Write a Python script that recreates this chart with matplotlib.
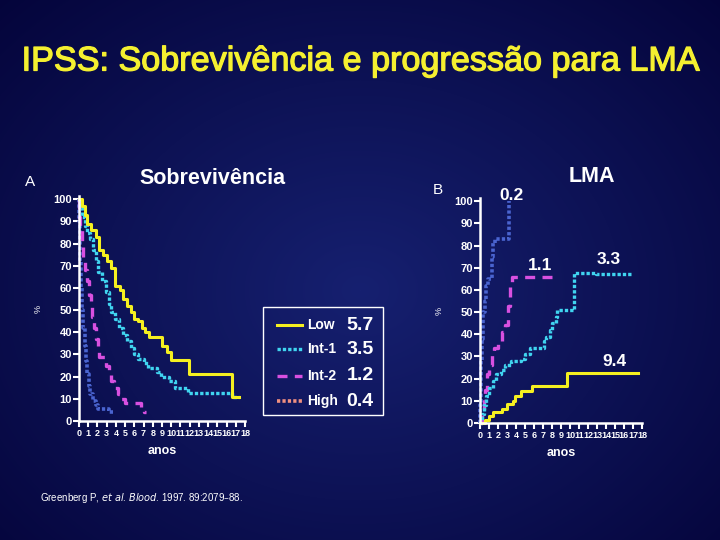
import numpy as np
import matplotlib
matplotlib.use("Agg")
import matplotlib.pyplot as plt
from matplotlib.lines import Line2D
from matplotlib.patches import Rectangle
import matplotlib.patheffects as pe

plt.rcParams['font.family'] = ['Liberation Sans', 'DejaVu Sans']

# ---------------- data ----------------
groups = ["Low", "Int-1", "Int-2", "High"]
median_survival = ["5.7", "3.5", "1.2", "0.4"]
median_aml = ["9.4", "3.3", "1.1", "0.2"]

# Survival (panel A): step times (years) and % surviving after each time
surv_low_t = [0, 0.3, 0.6, 0.9, 1.3, 1.8, 2.2, 2.6, 3.0, 3.5, 3.9, 4.4, 4.8, 5.2, 5.6, 6.0, 6.4, 6.8, 7.2, 7.6, 9.0, 9.5, 10.0, 11.9, 16.6, 17.3]
surv_low_v = [100, 97, 93, 89, 86, 83, 77, 75, 72, 69, 61, 59, 55, 52, 49, 46, 45, 42, 40, 38, 34, 31, 27.5, 21, 11, 11]
surv_int1_t = [0, 0.1, 0.3, 0.6, 0.9, 1.2, 1.5, 1.8, 2.1, 2.5, 2.9, 3.2, 3.5, 3.9, 4.3, 4.8, 5.2, 5.6, 6.0, 6.4, 7.0, 7.5, 8.5, 8.9, 9.8, 10.4, 11.8, 16.6, 17.3]
surv_int1_v = [100, 96, 92, 88, 85, 82, 77, 72, 67, 63, 58, 53, 49, 46, 42, 39, 36, 33, 30, 28, 26, 24, 22, 20, 18, 15, 12.5, 11, 11]
surv_int2_t = [0, 0.05, 0.15, 0.3, 0.45, 0.65, 0.85, 1.05, 1.25, 1.45, 1.65, 1.85, 2.05, 2.2, 2.9, 3.2, 3.5, 3.8, 4.2, 4.6, 5.0, 6.7, 7.0, 7.3]
surv_int2_v = [100, 92, 86, 80, 74, 68, 63, 57, 52, 47, 42, 37, 32, 29, 25, 22, 18, 15, 12, 10, 8, 6, 4, 4]
surv_high_t = [0, 0.05, 0.1, 0.15, 0.25, 0.35, 0.45, 0.6, 0.75, 0.9, 1.05, 1.2, 1.5, 1.8, 2.1, 3.3, 3.9]
surv_high_v = [100, 90, 80, 72, 60, 50, 42, 34, 27, 21, 16, 12, 9, 7, 5.5, 4, 4]

# AML progression (panel B)
aml_low_t = [0, 0.5, 1.0, 1.4, 2.4, 3.0, 3.7, 3.9, 4.5, 5.8, 9.7, 17.5]
aml_low_v = [0, 1.5, 3, 5, 6.5, 8.5, 10, 12, 14.5, 16.5, 22.5, 22.5]
aml_int1_t = [0, 0.2, 0.4, 0.7, 1.0, 1.4, 1.8, 2.3, 2.8, 3.4, 4.5, 5.0, 5.5, 7.1, 7.3, 7.8, 8.0, 8.4, 8.6, 10.4, 12.9, 16.9]
aml_int1_v = [0, 4, 8, 12, 16, 19, 22, 24, 26, 28, 29, 31, 34, 37, 39, 42, 45, 48, 51, 67.5, 67, 67]
aml_int2_t = [0, 0.2, 0.4, 0.6, 0.8, 1.0, 1.3, 1.6, 2.0, 2.4, 2.8, 3.1, 3.3, 3.6, 8.0]
aml_int2_v = [0, 5, 10, 15, 22, 26, 31, 34, 37, 41, 44, 53, 62, 66, 66]
aml_high_t = [0, 0.05, 0.1, 0.15, 0.25, 0.35, 0.55, 0.7, 0.85, 1.3, 1.4, 1.7, 3.2]
aml_high_v = [0, 8, 18, 28, 38, 50, 55, 62, 65, 75, 81, 83, 100]

x_ticks = list(range(0, 19))
y_ticks = list(range(0, 101, 10))

# ---------------- styles ----------------
C_LOW = "#f5f020"
C_INT1 = "#40d4f0"
C_INT2 = "#d850e0"
C_HIGH = "#4a64d0"
C_HIGH_LEG = "#f09080"
styles = {
    "Low": dict(color=C_LOW, lw=2.2, linestyle="-"),
    "Int-1": dict(color=C_INT1, lw=2.4, linestyle=(0, (1.0, 0.6))),
    "Int-2": dict(color=C_INT2, lw=2.4, linestyle=(0, (3.0, 2.2))),
    "High": dict(color=C_HIGH, lw=2.6, linestyle=(0, (0.9, 0.6))),
}

W, H = 720, 540
fig = plt.figure(figsize=(7.2, 5.4), dpi=100)

# background radial gradient
bg = fig.add_axes([0, 0, 1, 1], zorder=-10)
yy, xx = np.mgrid[0:H, 0:W]
r = np.sqrt(((xx - 360) / 520.0) ** 2 + ((yy - 290) / 420.0) ** 2)
r = np.clip(r, 0, 1)
c_in = np.array([22, 32, 112]) / 255.0
c_out = np.array([4, 4, 58]) / 255.0
img = c_in[None, None, :] * (1 - r[..., None]) + c_out[None, None, :] * r[..., None]
bg.imshow(img, aspect="auto", extent=[0, 1, 0, 1])
bg.set_axis_off()


def px_axes(x0, x1, y0, y1):
    return [x0 / W, (H - y0) / H, (x1 - x0) / W, (y0 - y1) / H]


def style_axes(ax):
    ax.set_facecolor("none")
    ax.set_xlim(0, 18)
    ax.set_ylim(0, 101.5)
    for s in ["top", "right"]:
        ax.spines[s].set_visible(False)
    for s in ["left", "bottom"]:
        ax.spines[s].set_color("white")
        ax.spines[s].set_linewidth(1.8)
    ax.set_xticks(x_ticks)
    ax.set_yticks(y_ticks)
    ax.tick_params(axis="both", colors="white", direction="out", length=4, width=1.5)
    ax.tick_params(axis="x", labelsize=6.5, pad=1.5)
    ax.tick_params(axis="y", labelsize=8, pad=1)
    for lab in ax.get_yticklabels() + ax.get_xticklabels():
        lab.set_fontweight("bold")
    ax.set_xlabel("anos", color="white", fontsize=9, fontweight="bold", labelpad=5)
    ax.set_ylabel("%", color="white", fontsize=6.5, labelpad=8)
    ax.spines["bottom"].set_bounds(0, 18)


axA = fig.add_axes(px_axes(79, 245, 421, 196))
style_axes(axA)
surv = {
    "Low": (surv_low_t, surv_low_v),
    "Int-1": (surv_int1_t, surv_int1_v),
    "Int-2": (surv_int2_t, surv_int2_v),
    "High": (surv_high_t, surv_high_v),
}
for g in ["High", "Int-2", "Int-1", "Low"]:
    t, v = surv[g]
    axA.plot(t, v, drawstyle="steps-post", clip_on=False, **styles[g])

axB = fig.add_axes(px_axes(480, 642, 423, 198))
style_axes(axB)
aml = {
    "Low": (aml_low_t, aml_low_v),
    "Int-1": (aml_int1_t, aml_int1_v),
    "Int-2": (aml_int2_t, aml_int2_v),
    "High": (aml_high_t, aml_high_v),
}
for g in ["High", "Int-2", "Int-1", "Low"]:
    t, v = aml[g]
    axB.plot(t, v, drawstyle="steps-post", clip_on=False, **styles[g])

# median AML labels
aml_label_pos = {"Low": (614, 361), "Int-1": (609, 259), "Int-2": (540, 266), "High": (512, 195)}
for g, m in zip(groups, median_aml):
    x, y = aml_label_pos[g]
    fig.text(x / W, 1 - y / H, m, color="white", fontsize=12.5, fontweight="bold",
             ha="center", va="center")

# Titles & texts
fig.text(360 / W, 1 - 62 / H, "IPSS: Sobrevivência e progressão para LMA", color="#f5f030",
         fontsize=24.6, ha="center", va="center",
         path_effects=[pe.withStroke(linewidth=0.9, foreground="#f5f030")])
fig.text(213 / W, 1 - 178 / H, "Sobrevivência", color="white", fontsize=15.5,
         fontweight="bold", ha="center", va="center")
fig.text(592 / W, 1 - 176 / H, "LMA", color="white", fontsize=15.5,
         fontweight="bold", ha="center", va="center")
fig.text(30 / W, 1 - 182 / H, "A", color="white", fontsize=11, ha="center", va="center")
fig.text(438 / W, 1 - 190 / H, "B", color="white", fontsize=11, ha="center", va="center")
fig.text(40 / W, 1 - 498 / H,
         r"Greenberg P, $\it{et\ al}$. $\it{Blood}$. 1997. 89:2079–88.",
         color="white", fontsize=7, ha="left", va="center")

# Legend box for panel A
fig.add_artist(Rectangle((263 / W, 1 - 415 / H), 120 / W, 108 / H, transform=fig.transFigure,
                         facecolor="none", edgecolor="white", lw=1.0))
leg_rows = [325, 349, 376, 401]
for g, m, yrow in zip(groups, median_survival, leg_rows):
    st = dict(styles[g])
    if g == "High":
        st["color"] = C_HIGH_LEG
    yf = 1 - yrow / H
    fig.add_artist(Line2D([277 / W, 302 / W], [yf, yf], transform=fig.transFigure, **st))
    fig.text(307 / W, yf, g, color="white", fontsize=10, fontweight="bold", ha="left", va="center")
    fig.text(360 / W, yf, m, color="white", fontsize=14, fontweight="bold", ha="center", va="center")

fig.savefig("out.png", dpi=100, facecolor=fig.get_facecolor())
